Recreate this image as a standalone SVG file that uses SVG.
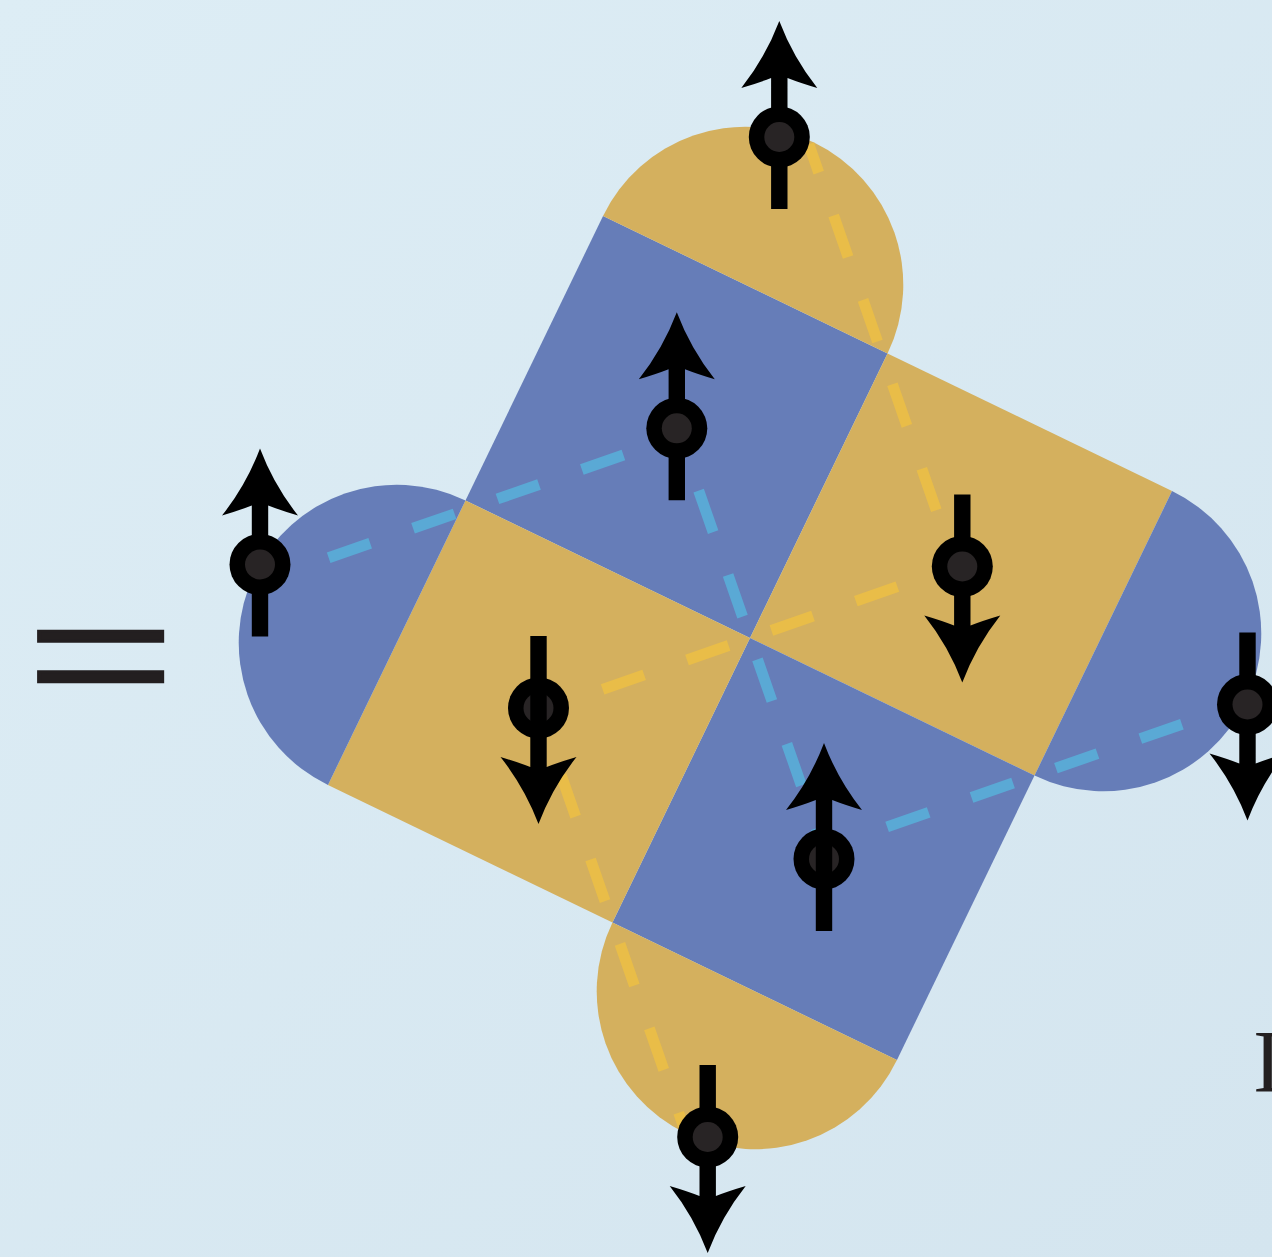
<svg xmlns="http://www.w3.org/2000/svg" width="1272" height="1257" viewBox="0 0 1272 1257">
<style>
.blue{fill:#667db8}
.yellow{fill:#d4b05e}
.dash{fill:none;stroke-width:11;stroke-dasharray:44 45.378;stroke-dashoffset:22;stroke-linecap:butt}
.first{stroke-dashoffset:14}
.dash-b{stroke:#5aa9d5}
.dash-y{stroke:#e9bd48}
.core{fill:#282425}
.txt{font-family:"Liberation Serif","Times New Roman",serif;fill:#231f20}
</style>
<defs>
<linearGradient id="bg" x1="0" y1="0" x2="1" y2="1">
<stop offset="0" stop-color="#ddedf5"/>
<stop offset="1" stop-color="#d4e5ef"/>
</linearGradient>
<path id="arrowUp" d="M0,-116 Q13.8,-79.5 38,-49 Q21,-54 8.2,-59 L8.2,72 L-8.2,72 L-8.2,-59 Q-21,-54 -38,-49 Q-13.8,-79.5 0,-116 Z" fill="#000"/>
<g id="spinA"><use href="#arrowUp"/><circle r="30.5" fill="#000"/><circle r="15" class="core"/></g>
<g id="spinB"><circle r="30.5" fill="#000"/><circle r="15" class="core"/><use href="#arrowUp"/></g>
</defs>
<rect width="1272" height="1257" fill="url(#bg)"/>
<g id="equals"><text class="txt" transform="translate(100.5,723.6) scale(1.31,1)" x="0" y="0" font-size="202" text-anchor="middle" stroke="#231f20" stroke-width="3">=</text></g>
<g id="letter"><text class="txt" x="1253" y="1091" font-size="88">I</text></g>
<g id="tiles" transform="translate(750,638) rotate(25.8)">
<g id="tile-top"><rect class="blue" x="-316" y="-316" width="316" height="316"/><path class="yellow" d="M-316,-316 A158,158 0 0 1 0,-316 Z"/></g>
<g id="tile-right"><rect class="yellow" x="0" y="-316" width="316" height="316"/><path class="blue" d="M316,-316 A158,158 0 0 1 316,0 Z"/></g>
<g id="tile-bottom"><rect class="blue" x="0" y="0" width="316" height="316"/><path class="yellow" d="M316,316 A158,158 0 0 1 0,316 Z"/></g>
<g id="tile-left"><rect class="yellow" x="-316" y="0" width="316" height="316"/><path class="blue" d="M-316,316 A158,158 0 0 1 -316,0 Z"/></g>
</g>
<g id="connectors" transform="translate(750,638) rotate(25.8)">
<path class="dash dash-b first" d="M-467.6,164.4 L-151.6,-151.6"/>
<path class="dash dash-b" d="M158,158 L-151.6,-151.6"/>
<path class="dash dash-b" d="M158,158 L474,-158"/>
<path class="dash dash-y first" d="M-161.9,-470.1 L154.1,-154.1"/>
<path class="dash dash-y" d="M-158,158 L154.1,-154.1"/>
<path class="dash dash-y" d="M-158,158 L158,474"/>
</g>
<g id="spin1"><use href="#spinA" transform="translate(779.3,137)"/></g>
<g id="spin2"><use href="#spinA" transform="translate(676.8,428.3)"/></g>
<g id="spin3"><use href="#spinA" transform="translate(260,564.5)"/></g>
<g id="spin4"><use href="#spinA" transform="translate(962.3,566.5) rotate(180)"/></g>
<g id="spin5"><use href="#spinB" transform="translate(538.5,708) rotate(180)"/></g>
<g id="spin6"><use href="#spinB" transform="translate(824,859)"/></g>
<g id="spin7"><use href="#spinA" transform="translate(1247.5,704.5) rotate(180)"/></g>
<g id="spin8"><use href="#spinA" transform="translate(707.7,1137) rotate(180)"/></g>
</svg>
